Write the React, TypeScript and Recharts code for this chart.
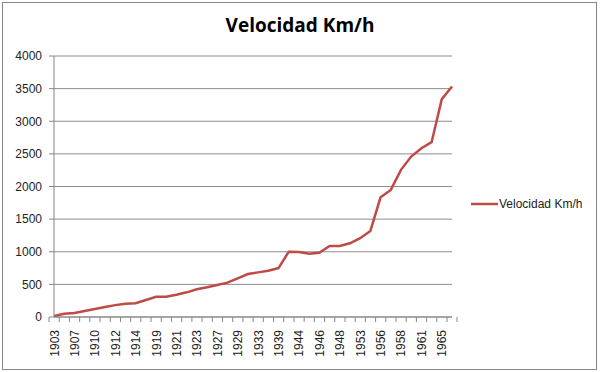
import React from 'react';
import { LineChart, Line, XAxis, YAxis, CartesianGrid, Legend } from 'recharts';

const years = [
  '1903', '1906', '1907', '1909', '1910', '1911', '1912', '1913', '1914', '1918',
  '1919', '1920', '1921', '1922', '1923', '1924', '1927', '1928', '1929', '1931',
  '1933', '1934', '1939', '1941', '1944', '1945', '1946', '1947', '1948', '1952',
  '1953', '1955', '1956', '1957', '1958', '1959', '1961', '1962', '1965', '1976',
];
const speeds = [
  15, 50, 62, 92, 122, 152, 182, 204, 210, 260,
  311, 311, 340, 378, 424, 455, 490, 526, 593, 659,
  684, 710, 750, 1000, 995, 970, 985, 1088, 1088, 1130,
  1207, 1319, 1835, 1948, 2255, 2459, 2587, 2679, 3339, 3533,
];
const yTicks = [0, 500, 1000, 1500, 2000, 2500, 3000, 3500, 4000];
const seriesName = 'Velocidad Km/h';
const title = 'Velocidad Km/h';

const data = years.map((y, i) => ({ year: y, v: speeds[i] }));

const RED = '#BE4B48';
const AXIS = '#868686';
const FONT = '"Liberation Sans", Arial, sans-serif';

const CHART_W = 600;
const CHART_H = 372;
const MARGIN = { top: 56, right: 148, bottom: 0, left: 0 };
const Y_W = 54;
const X_H = 55;
const PLOT_W = CHART_W - MARGIN.left - MARGIN.right - Y_W;
const STEP = PLOT_W / years.length;

const XTick = (props: any) => {
  const { x, y, index, payload } = props;
  const half = STEP / 2;
  return (
    <g>
      <line x1={x - half} x2={x - half} y1={y} y2={y + 5} stroke={AXIS} strokeWidth={1} />
      {index === years.length - 1 && (
        <line x1={x + half} x2={x + half} y1={y} y2={y + 5} stroke={AXIS} strokeWidth={1} />
      )}
      {index % 2 === 0 && (
        <text
          x={x + 4.5}
          y={y + 13}
          transform={`rotate(-90 ${x + 4.5} ${y + 13})`}
          textAnchor="end"
          fontSize={12}
          fontFamily={FONT}
          fill="#222"
        >
          {payload.value}
        </text>
      )}
    </g>
  );
};

const LegendContent = () => (
  <div style={{ display: 'flex', alignItems: 'center', fontFamily: FONT, fontSize: 12, color: '#222' }}>
    <svg width={28} height={10} style={{ display: 'block' }}>
      <line x1={1} x2={28} y1={5} y2={5} stroke={RED} strokeWidth={2.5} />
    </svg>
    <span style={{ marginLeft: 1, whiteSpace: 'nowrap' }}>{seriesName}</span>
  </div>
);

export default function App() {
  return (
    <div style={{ position: 'absolute', left: 0, top: 0, width: CHART_W, height: CHART_H, background: '#fff', overflow: 'hidden' }}>
      <div
        style={{
          position: 'absolute',
          left: 2,
          top: 2,
          width: 593,
          height: 366,
          border: `1px solid ${AXIS}`,
        }}
      />
      <div
        style={{
          position: 'absolute',
          left: 0,
          top: 12,
          width: CHART_W,
          textAlign: 'center',
          fontFamily: '"Open Sans", sans-serif',
          fontWeight: 700,
          fontSize: 19,
          lineHeight: '26px',
          color: '#000',
        }}
      >
        {title}
      </div>
      <div style={{ position: 'absolute', left: 0, top: 0 }}>
        <LineChart width={CHART_W} height={CHART_H} data={data} margin={MARGIN}>
          <CartesianGrid horizontal vertical={false} stroke="#8c8c8c" />
          <XAxis
            dataKey="year"
            interval={0}
            height={X_H}
            tick={<XTick />}
            tickLine={false}
            tickSize={0}
            tickMargin={0}
            axisLine={{ stroke: AXIS }}
          />
          <YAxis
            width={Y_W}
            domain={[0, 4000]}
            ticks={yTicks}
            interval={0}
            tickSize={5}
            tickMargin={7}
            tickLine={{ stroke: AXIS }}
            axisLine={{ stroke: AXIS }}
            tick={{ fontSize: 12, fontFamily: FONT, fill: '#222' }}
          />
          <Legend
            layout="horizontal"
            verticalAlign="middle"
            align="center"
            wrapperStyle={{ left: 470, top: 197, width: 130, height: 16 }}
            content={<LegendContent />}
          />
          <Line
            type="linear"
            dataKey="v"
            name={seriesName}
            stroke={RED}
            strokeWidth={2.5}
            dot={false}
            activeDot={false}
            isAnimationActive={false}
          />
        </LineChart>
      </div>
    </div>
  );
}
